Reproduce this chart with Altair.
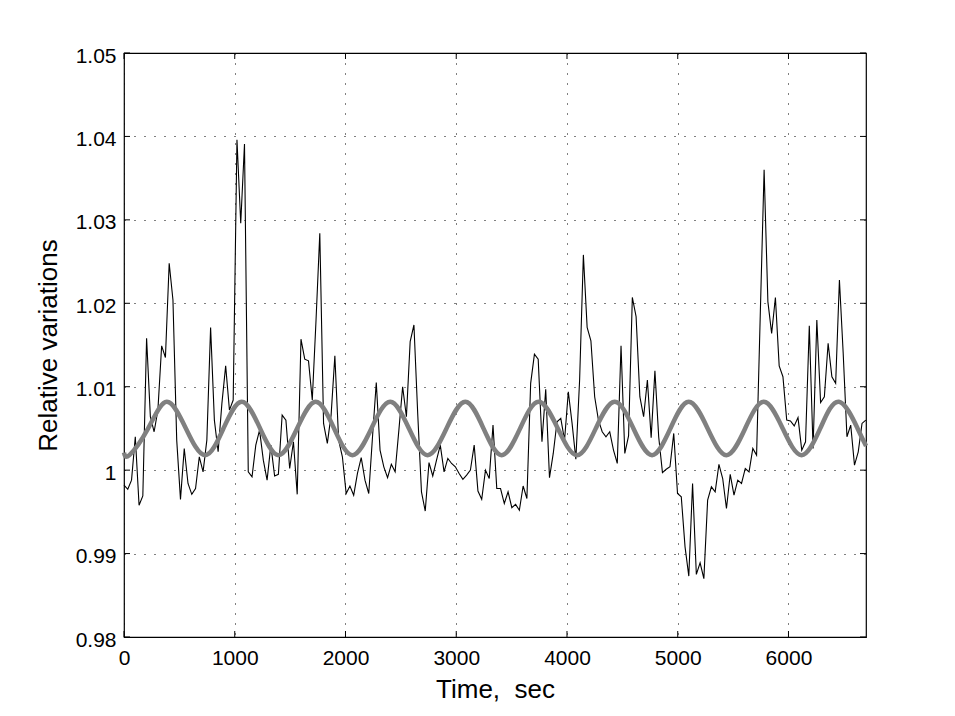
import altair as alt
import pandas as pd

# sampling step of the measured series (seconds)
step = 34.0

# relative variations (one value per sample)
rel_values = [
    0.9982, 0.9977, 0.9988, 1.0040, 0.9958, 0.9969, 1.0158, 1.0064, 1.0046, 1.0072,
    1.0149, 1.0135, 1.0248, 1.0204, 1.0036, 0.9965, 1.0026, 0.9984, 0.9971, 0.9978,
    1.0016, 0.9998, 1.0036, 1.0171, 1.0060, 1.0022, 1.0080, 1.0125, 1.0072, 1.0084,
    1.0396, 1.0296, 1.0391, 0.9998, 0.9992, 1.0030, 1.0048, 1.0012, 0.9988, 1.0030,
    0.9993, 0.9995, 1.0066, 1.0060, 1.0002, 1.0034, 0.9971, 1.0157, 1.0133, 1.0131,
    1.0084, 1.0180, 1.0284, 1.0056, 1.0032, 1.0066, 1.0137, 1.0036, 1.0016, 0.9972,
    0.9981, 0.9970, 0.9996, 1.0015, 0.9988, 0.9972, 1.0040, 1.0105, 1.0024, 1.0004,
    0.9991, 1.0007, 0.9998, 1.0048, 1.0100, 1.0064, 1.0154, 1.0174, 1.0068, 0.9974,
    0.9951, 1.0009, 0.9993, 1.0012, 1.0030, 0.9998, 1.0014, 1.0008, 1.0004, 0.9996,
    0.9989, 0.9994, 1.0000, 1.0030, 0.9975, 0.9965, 1.0000, 0.9990, 1.0054, 0.9978,
    0.9978, 0.9960, 0.9974, 0.9955, 0.9959, 0.9952, 0.9981, 0.9966, 1.0104, 1.0139,
    1.0133, 1.0034, 1.0097, 0.9991, 1.0020, 1.0058, 1.0062, 1.0036, 1.0094, 1.0056,
    1.0013, 1.0108, 1.0258, 1.0171, 1.0155, 1.0088, 1.0060, 1.0046, 1.0040, 1.0046,
    1.0024, 1.0008, 1.0149, 1.0020, 1.0041, 1.0207, 1.0184, 1.0088, 1.0064, 1.0108,
    1.0039, 1.0119, 1.0040, 0.9997, 1.0001, 1.0004, 1.0044, 0.9972, 0.9968, 0.9908,
    0.9873, 0.9984, 0.9875, 0.9889, 0.9870, 0.9964, 0.9980, 0.9974, 1.0007, 0.9990,
    0.9954, 0.9995, 0.9970, 0.9988, 0.9984, 1.0002, 0.9998, 1.0026, 1.0018, 1.0190,
    1.0360, 1.0202, 1.0164, 1.0207, 1.0125, 1.0112, 1.0060, 1.0059, 1.0053, 1.0063,
    1.0024, 1.0034, 1.0173, 1.0026, 1.0180, 1.0081, 1.0088, 1.0152, 1.0112, 1.0104,
    1.0228, 1.0140, 1.0040, 1.0054, 1.0006, 1.0022, 1.0056, 1.0060,
]

# fitted periodic curve: troughs, mid-crossings and peaks
sine_t = [0, 49, 218, 386, 559, 732, 898, 1063, 1229, 1395, 1563, 1731, 1897, 2063,
          2234, 2404, 2573, 2741, 2912, 3082, 3246, 3410, 3577, 3744, 3917, 4090,
          4260, 4431, 4600, 4768, 4934, 5099, 5270, 5440, 5609, 5777, 5948, 6118,
          6287, 6455, 6624, 6700]
sine_v = [1.0021, 1.0018, 1.0050, 1.0082, 1.0050, 1.0018, 1.0050, 1.0082, 1.0050,
          1.0018, 1.0050, 1.0082, 1.0050, 1.0018, 1.0050, 1.0082, 1.0050, 1.0018,
          1.0050, 1.0082, 1.0050, 1.0018, 1.0050, 1.0082, 1.0050, 1.0018, 1.0050,
          1.0082, 1.0050, 1.0018, 1.0050, 1.0082, 1.0050, 1.0018, 1.0050, 1.0082,
          1.0050, 1.0018, 1.0050, 1.0082, 1.0050, 1.0029]

x_ticks = [0, 1000, 2000, 3000, 4000, 5000, 6000]
y_ticks = [0.98, 0.99, 1.0, 1.01, 1.02, 1.03, 1.04, 1.05]

W, H = 742, 584
FONT = "Liberation Sans"
TICK = 6

df = pd.DataFrame({"t": [i * step for i in range(len(rel_values))], "v": rel_values})
sdf = pd.DataFrame({"t": sine_t, "v": sine_v})
xt = pd.DataFrame({"t": x_ticks})
yt = pd.DataFrame({"v": y_ticks})

xs = alt.Scale(domain=[0, 6700], nice=False, zero=False)
ys = alt.Scale(domain=[0.98, 1.05], nice=False, zero=False)

x_axis = alt.Axis(
    values=x_ticks, format="d", title="Time, \u00a0sec",
    grid=True, gridDash=[1, 9], gridColor="#000000", gridWidth=1, gridOpacity=1,
    domain=False, ticks=False, tickSize=0, labelFlush=False, labelOverlap=False,
    labelFont=FONT, labelFontSize=21, labelColor="#000000",
    labelBaseline="alphabetic", labelPadding=27,
    titleFont=FONT, titleFontSize=26, titleFontWeight="normal", titleColor="#000000",
    titleX=W / 2, titleY=60, titleBaseline="alphabetic", titleAlign="center",
)
y_axis = alt.Axis(
    values=y_ticks, format="~g", title="Relative variations",
    grid=True, gridDash=[1, 9], gridColor="#000000", gridWidth=1, gridOpacity=1,
    domain=False, ticks=False, tickSize=0, labelFlush=False, labelOverlap=False,
    labelFont=FONT, labelFontSize=21, labelColor="#000000",
    labelBaseline="alphabetic", labelOffset=9, labelPadding=8,
    titleFont=FONT, titleFontSize=26, titleFontWeight="normal", titleColor="#000000",
    titleX=-68, titleY=H / 2, titleAngle=-90, titleBaseline="alphabetic",
    titleAlign="center",
)


def X(field):
    return alt.X(field, scale=xs, axis=x_axis)


def Y(field):
    return alt.Y(field, scale=ys, axis=y_axis)


data_line = alt.Chart(df).mark_line(color="#000000", strokeWidth=1.1).encode(
    x=X("t:Q"), y=Y("v:Q"),
)

sine_line = alt.Chart(sdf).mark_line(
    color="#808080", strokeWidth=4.5, interpolate="natural"
).encode(x=X("t:Q"), y=Y("v:Q"))

left_ticks = alt.Chart(yt).mark_rule(color="#000000", strokeWidth=1).encode(
    y=Y("v:Q"), x=alt.value(0), x2=alt.value(TICK)
)
right_ticks = alt.Chart(yt).mark_rule(color="#000000", strokeWidth=1).encode(
    y=Y("v:Q"), x=alt.value(W - TICK), x2=alt.value(W)
)
bottom_ticks = alt.Chart(xt).mark_rule(color="#000000", strokeWidth=1).encode(
    x=X("t:Q"), y=alt.value(H - TICK), y2=alt.value(H)
)
top_ticks = alt.Chart(xt).mark_rule(color="#000000", strokeWidth=1).encode(
    x=X("t:Q"), y=alt.value(0), y2=alt.value(TICK)
)

chart = alt.layer(
    data_line, sine_line, left_ticks, right_ticks, bottom_ticks, top_ticks
).properties(
    width=W, height=H,
    autosize=alt.AutoSizeParams(type="none"),
    padding={"left": 116, "top": 45, "right": 70, "bottom": 70},
    background="#ffffff",
).configure_view(stroke="#000000", strokeWidth=1.2)

chart.save("out.html", embed_options={"renderer": "svg", "actions": False})
